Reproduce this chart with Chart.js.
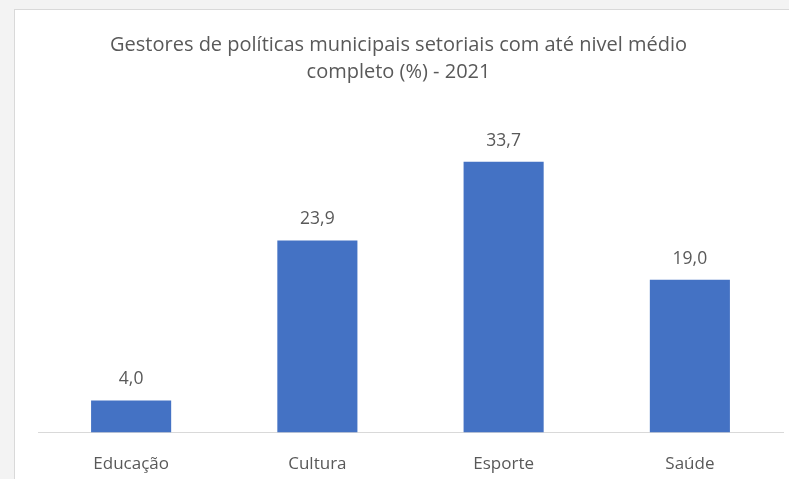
<!DOCTYPE html>
<html>
<head>
<meta charset="utf-8">
<script src="https://cdn.jsdelivr.net/npm/chart.js@4.4.0/dist/chart.umd.min.js"></script>
<style>
  html, body { margin: 0; padding: 0; background: #f3f3f3; overflow: hidden; }
  #frame { position: absolute; left: 14px; top: 9px; width: 800px; height: 500px;
           background: #fff; border: 1px solid #d9d9d9; }
  #wrap { position: absolute; left: 0; top: 0; width: 789px; height: 487px; }
</style>
</head>
<body>
<div id="frame"></div>
<div id="wrap"><canvas id="gestoresChart"></canvas></div>
<script>
const categories = ['Educação', 'Cultura', 'Esporte', 'Saúde'];
const values = [4.0, 23.9, 33.7, 19.0];
const titleLines = ['Gestores de políticas municipais setoriais com até nivel médio', 'completo (%) - 2021'];

const textColor = '#595959';
const fontFamily = '"Open Sans", sans-serif';

// title is centred on the chart frame, not on the plot area
const frameTitle = {
  id: 'frameTitle',
  afterDraw(chart) {
    const ctx = chart.ctx;
    ctx.save();
    ctx.fillStyle = textColor;
    ctx.font = '20px ' + fontFamily;
    ctx.textAlign = 'center';
    ctx.textBaseline = 'middle';
    titleLines.forEach((line, i) => ctx.fillText(line, 398.5, 45 + i * 27));
    ctx.restore();
  }
};

// draws the value above each bar, with a comma as decimal mark
const valueLabels = {
  id: 'valueLabels',
  afterDatasetsDraw(chart) {
    const ctx = chart.ctx;
    const meta = chart.getDatasetMeta(0);
    ctx.save();
    ctx.fillStyle = textColor;
    ctx.font = '17.5px ' + fontFamily;
    ctx.textAlign = 'center';
    ctx.textBaseline = 'middle';
    meta.data.forEach((bar, i) => {
      const txt = values[i].toFixed(1).replace('.', ',');
      ctx.fillText(txt, bar.x, bar.y - 21);
    });
    ctx.restore();
  }
};

const ctx = document.getElementById('gestoresChart').getContext('2d');
new Chart(ctx, {
  type: 'bar',
  data: {
    labels: categories,
    datasets: [{
      data: values,
      backgroundColor: '#4472C4',
      borderWidth: 0,
      categoryPercentage: 1,
      barPercentage: 0.43
    }]
  },
  options: {
    responsive: true,
    maintainAspectRatio: false,
    animation: false,
    layout: { padding: { left: 38, right: 6, top: 111, bottom: 0 } },
    plugins: {
      legend: { display: false },
      tooltip: { enabled: false },
      title: { display: false }
    },
    scales: {
      x: {
        grid: { display: false },
        border: { display: true, color: '#d9d9d9', width: 1 },
        ticks: { color: textColor, font: { family: fontFamily, size: 17 }, padding: 13 }
      },
      y: {
        display: false,
        min: 0,
        max: 40
      }
    }
  },
  plugins: [valueLabels, frameTitle]
});
</script>
</body>
</html>
